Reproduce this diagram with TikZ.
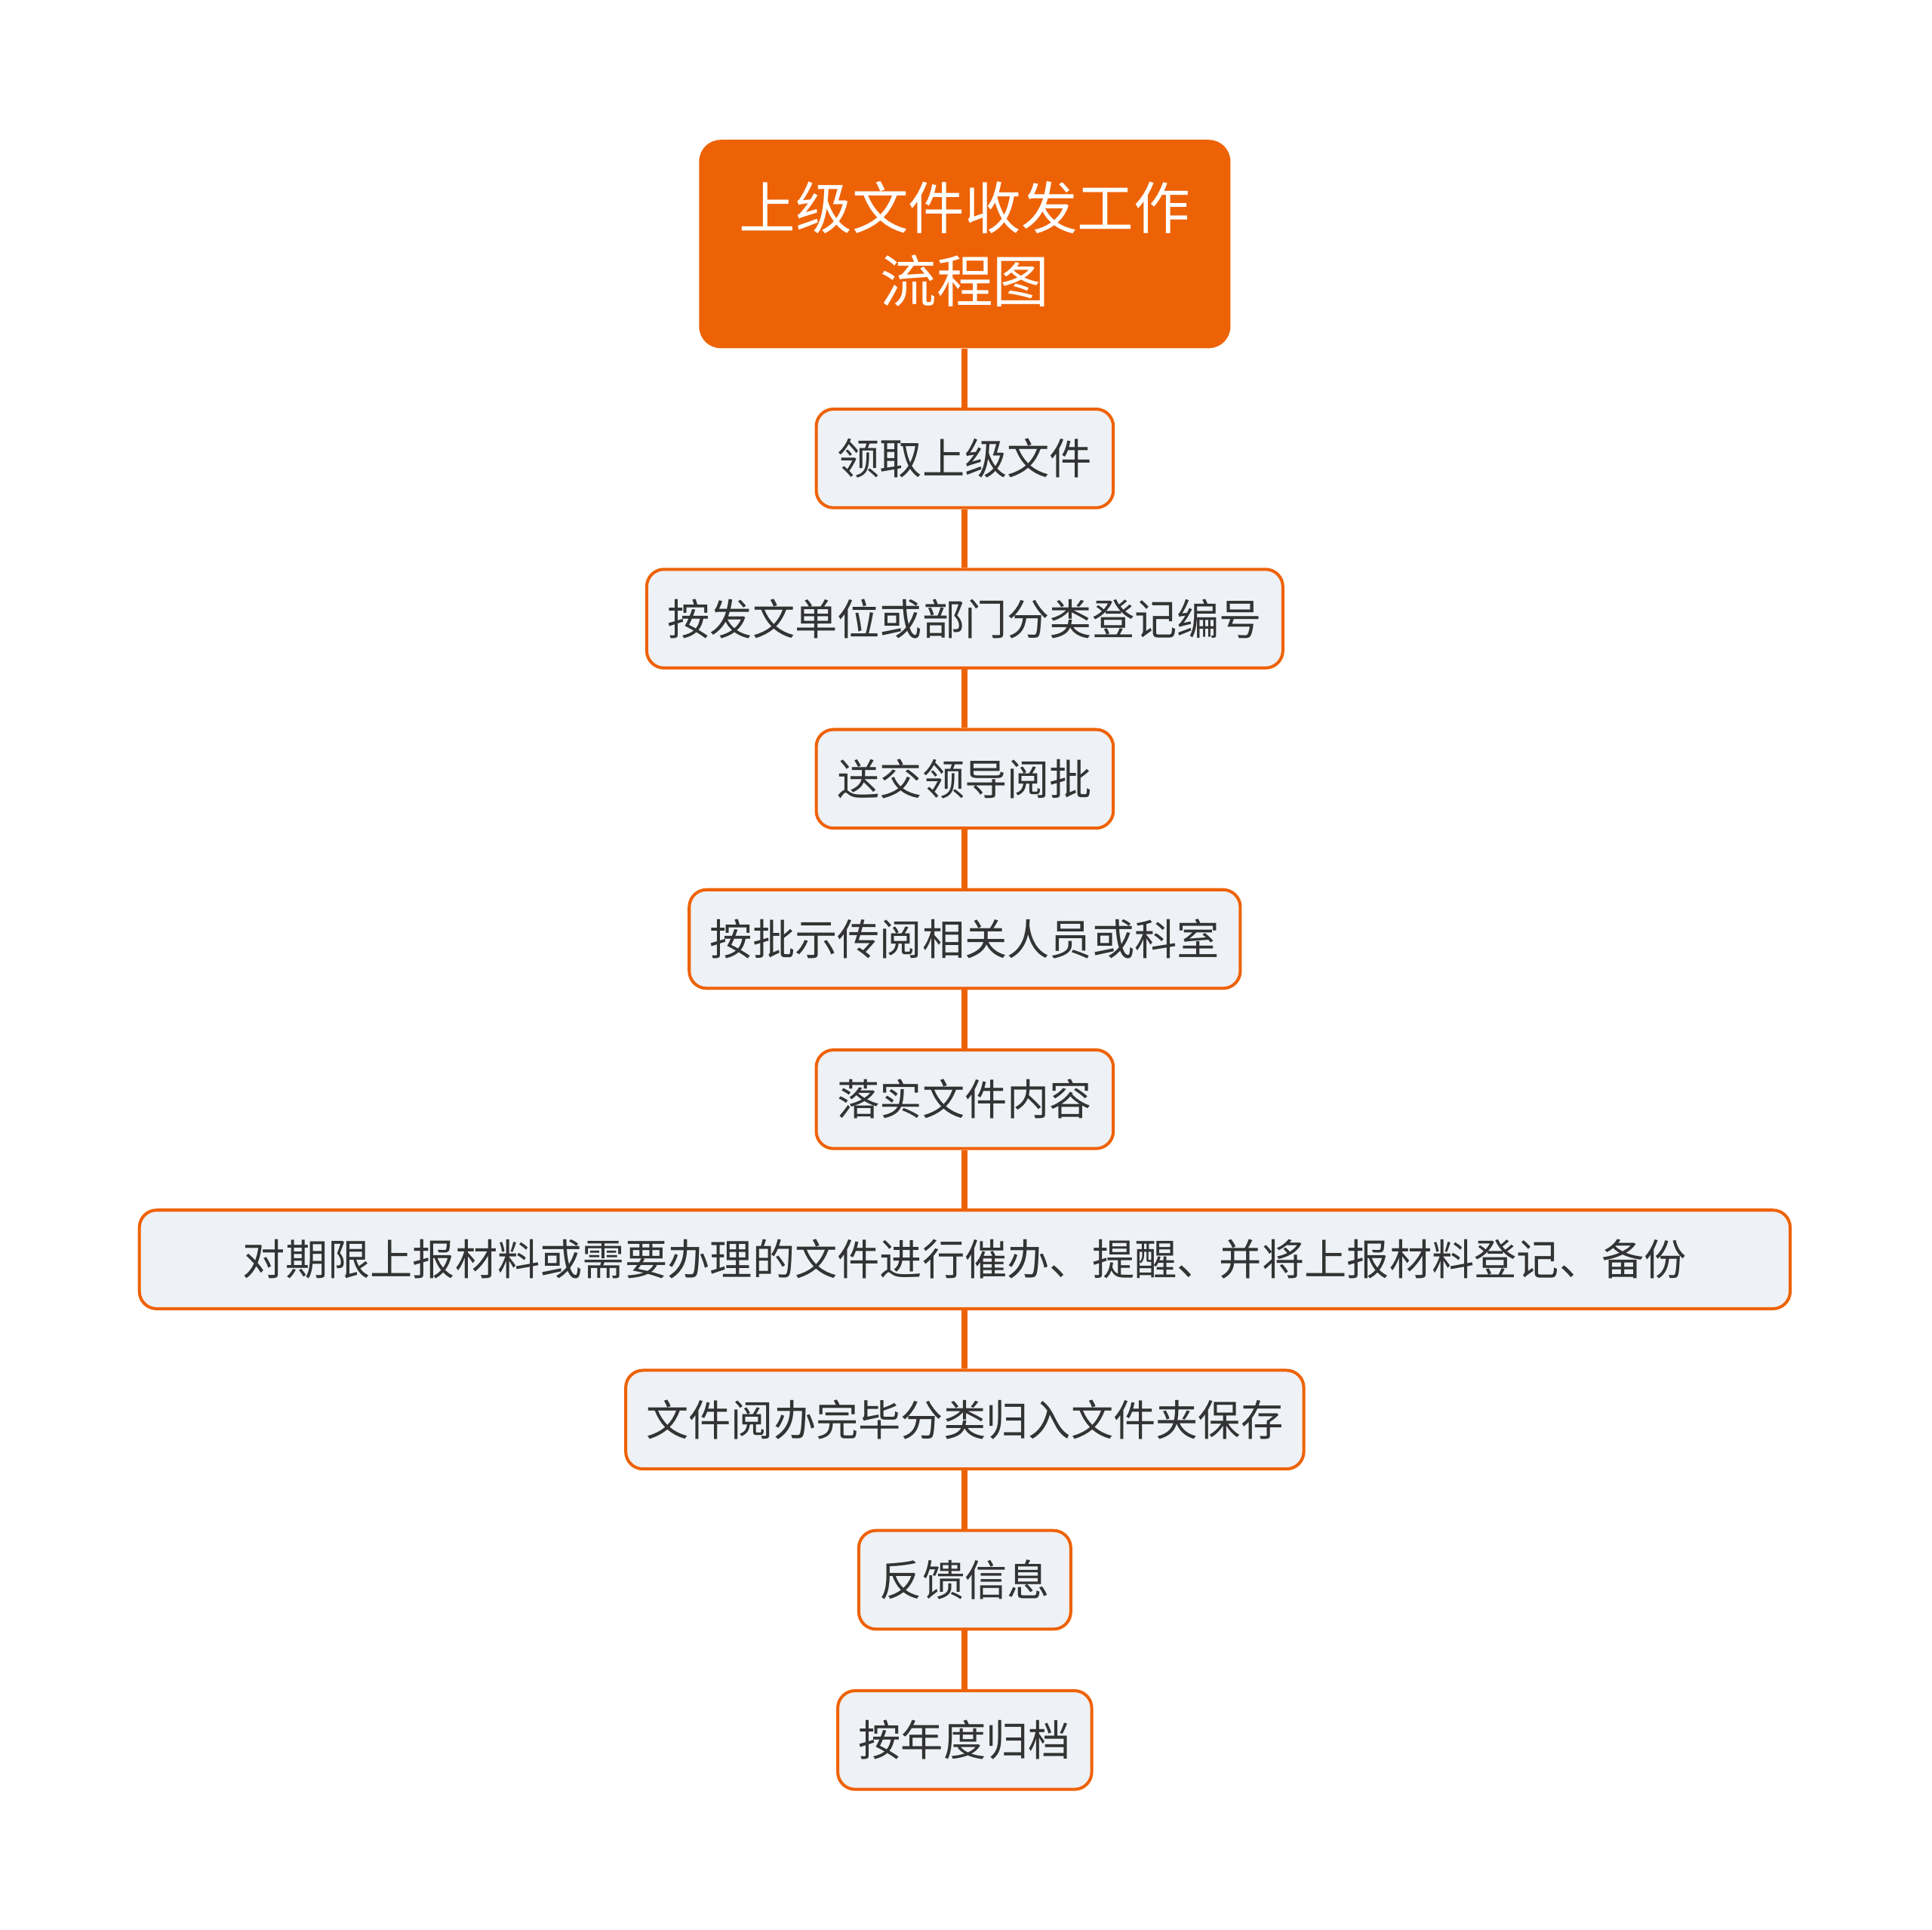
\documentclass[tikz,border=0pt]{standalone}
\usepackage{fontspec}
\setmainfont{Noto Sans CJK SC}
\usetikzlibrary{positioning}
\definecolor{rootorange}{HTML}{EE6206}
\definecolor{stepfill}{HTML}{EEF1F5}
\definecolor{steptext}{HTML}{333333}
\begin{document}
\begin{tikzpicture}[x=0.01cm,y=-0.01cm]
		\tikzset{Root/.style = {rectangle, rounded corners=5pt, minimum width=4.31cm, minimum height=1.69cm, align=center, fill=rootorange, text=white, font=\fontsize{13pt}{17pt}\selectfont, inner sep=0pt},
		StepBox/.style = {rectangle, rounded corners=4pt, minimum height=0.8cm, text centered, draw=rootorange, fill=stepfill, text=steptext, line width=0.7pt, font=\fontsize{9.8pt}{12pt}\selectfont, inner sep=0pt},
		link/.style = {rootorange, line width=1.4pt}}
		\useasboundingbox (0,0) rectangle (1568,1566);
		
		\node (root) [Root] at (783,198) {上级文件收发工作\\流程图};
		\node (s1) [StepBox, minimum width=2.41cm] at (783,372) {领取上级文件};
		\node (s2) [StepBox, minimum width=5.16cm] at (783,502) {按发文单位或部门分类登记编号};
		\node (s3) [StepBox, minimum width=2.41cm] at (783,632) {送交领导阅批};
		\node (s4) [StepBox, minimum width=4.47cm] at (783,762) {按批示传阅相关人员或科室};
		\node (s5) [StepBox, minimum width=2.41cm] at (783,892) {落实文件内容};
		\node (s6) [StepBox, minimum width=13.39cm] at (783,1022) {对期限上报材料或需要办理的文件进行催办、提醒、并将上报材料登记、备份};
		\node (s7) [StepBox, minimum width=5.50cm] at (783,1152) {文件阅办完毕分类归入文件夹保存};
		\node (s8) [StepBox, minimum width=1.72cm] at (783,1282) {反馈信息};
		\node (s9) [StepBox, minimum width=2.06cm] at (783,1412) {按年度归档};
		
		\draw [link] (root) -- (s1);
		\foreach \a/\b in {s1/s2, s2/s3, s3/s4, s4/s5, s5/s6, s6/s7, s7/s8, s8/s9}
			\draw [link] (\a) -- (\b);
		
		\end{tikzpicture}
\end{document}
